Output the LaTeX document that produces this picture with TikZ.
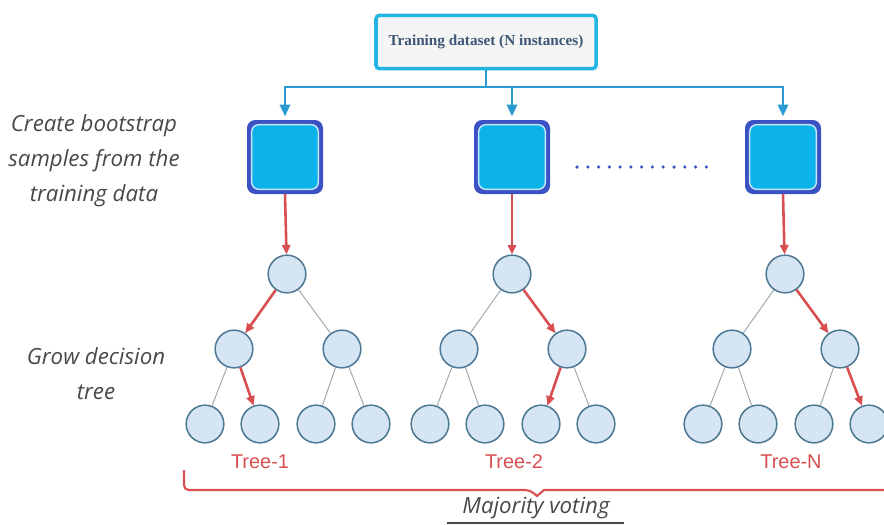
\documentclass[tikz,border=0pt]{standalone}
\usepackage{fontspec}
\setmainfont{Liberation Serif}
\newfontfamily\handfont{Open Sans}
\newfontfamily\labelfont{Liberation Sans}
\usetikzlibrary{calc}
\usetikzlibrary{arrows.meta}

\definecolor{framecyan}{HTML}{22B5E2}
\definecolor{titleink}{HTML}{3C5675}
\definecolor{feedblue}{HTML}{2A9AD2}
\definecolor{boxdark}{HTML}{3B52C4}
\definecolor{boxring}{HTML}{C8E6F8}
\definecolor{boxfill}{HTML}{0BB3EA}
\definecolor{nodefill}{HTML}{D5E5F3}
\definecolor{nodeedge}{HTML}{4D7894}
\definecolor{twiggray}{HTML}{9AA5AE}
\definecolor{pathred}{HTML}{D94F4F}
\definecolor{handink}{HTML}{484848}

\tikzset{
 titlebox/.style={draw=framecyan,line width=3pt,rounded corners=3pt,fill=black!4,
   minimum width=6.6cm,minimum height=1.6cm,text=titleink,font=\bfseries\fontsize{13}{15}\selectfont},
 bootbox/.style={fill=boxdark,rounded corners=7pt,minimum width=2.28cm,minimum height=2.22cm,
   path picture={\draw[boxring,line width=1.2pt,fill=boxfill,rounded corners=6pt]
     ([shift={(4pt,4pt)}]path picture bounding box.south west) rectangle
     ([shift={(-4pt,-4pt)}]path picture bounding box.north east);}},
 feed/.style={draw=feedblue,line width=1.6pt},
 leaf/.style={circle,draw=nodeedge,fill=nodefill,line width=1.3pt,minimum size=1.13cm,inner sep=0pt},
 twig/.style={draw=twiggray,line width=0.8pt},
 redpath/.style={draw=pathred,line width=2.2pt,-{Triangle[length=8pt,width=7pt]}},
 hand/.style={font=\handfont\itshape\fontsize{19}{30}\selectfont,text=handink,align=center},
 treelabel/.style={font=\labelfont\fontsize{17}{19}\selectfont,text=pathred}
}

\begin{document}
\begin{tikzpicture}[x=0.03cm,y=-0.03cm]
\useasboundingbox (0,0) rectangle (884,524);

% dataset and bootstrap samples
\node[titlebox] (data) at (486,42) {Training dataset (N instances)};
\node[bootbox] (b1) at (285,157) {};
\node[bootbox] (b2) at (512,157) {};
\node[bootbox] (bN) at (783,157) {};
\draw[feed] (data.south) -- ++(0,17) coordinate (bar);
\foreach \b in {b1,b2,bN}
 \draw[feed,-{Triangle[length=10pt,width=9pt]},shorten >=3pt] (bar) -| (\b.north);
\draw[boxdark,line width=3pt,line cap=round,dash pattern=on 0pt off 9.2pt] (577,167) -- (717,167);

\node[hand] (boot) at (94,161) {Create bootstrap\\samples from the\\training data};
\node[hand] (grow) at (96,374) {Grow decision\\tree};

% trees
\foreach \t/\x/\l in {1/287/260,2/512/514,N/785/791}{
 \node[leaf] (t\t-r) at (\x,274) {};
 \node[leaf] (t\t-a) at (\x-53,349) {};
 \node[leaf] (t\t-b) at (\x+55,349) {};
 \node[leaf] (t\t-aa) at (\x-82,424) {};
 \node[leaf] (t\t-ab) at (\x-27,424) {};
 \node[leaf] (t\t-ba) at (\x+29,424) {};
 \node[leaf] (t\t-bb) at (\x+84,424) {};
 \draw[twig] (t\t-r) -- (t\t-a) (t\t-r) -- (t\t-b) (t\t-a) -- (t\t-aa) (t\t-a) -- (t\t-ab)
   (t\t-b) -- (t\t-ba) (t\t-b) -- (t\t-bb);
 \draw[redpath] (b\t.south) -- (t\t-r);
 \node[treelabel] (lab\t) at (\l,462) {Tree-\t};
}
\draw[redpath] (t1-r) -- (t1-a); \draw[redpath] (t1-a) -- (t1-ab);
\draw[redpath] (t2-r) -- (t2-b); \draw[redpath] (t2-b) -- (t2-ba);
\draw[redpath] (tN-r) -- (tN-b); \draw[redpath] (tN-b) -- (tN-bb);

% voting brace
\coordinate (braceL) at (184,470);
\coordinate (braceR) at (884,490);
\draw[pathred,line width=1.8pt,rounded corners=4pt] (braceL) |- (530,490) [sharp corners]-- (537,496) -- (544,490) -- (braceR);
\node[hand] (vote) at (536,508) {Majority voting};
\draw[handink,line width=1pt] (447,523) -- (624,523);
\end{tikzpicture}
\end{document}
